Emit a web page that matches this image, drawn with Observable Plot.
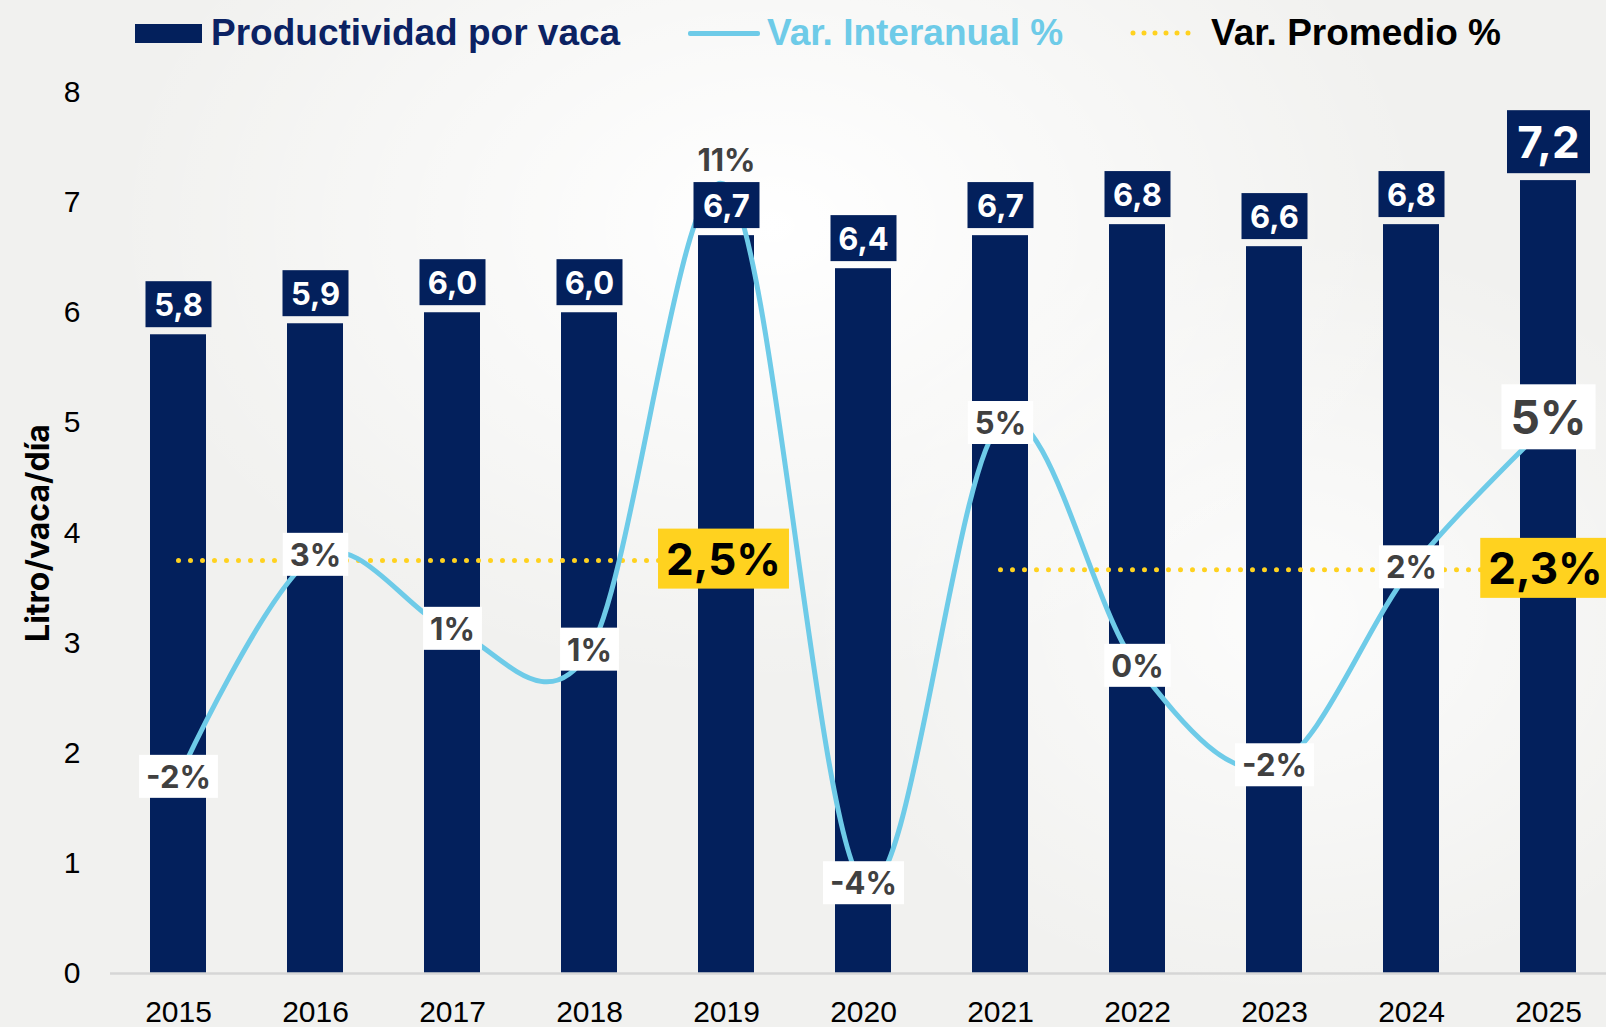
<!DOCTYPE html>
<html>
<head>
<meta charset="utf-8">
<script src="https://cdn.jsdelivr.net/npm/d3@7"></script>
<script src="https://cdn.jsdelivr.net/npm/@observablehq/plot@0.6"></script>
<style>
  html, body { margin: 0; padding: 0; }
  body {
    width: 1606px; height: 1027px; overflow: hidden;
    background:
      radial-gradient(ellipse 55% 60% at 48% 22%, rgba(255,255,255,1) 0%, rgba(255,255,255,0) 75%),
      radial-gradient(ellipse 40% 50% at 80% 60%, rgba(255,255,255,0.8) 0%, rgba(255,255,255,0) 75%),
      #f1f1ef;
    font-family: "Liberation Sans", Arial, sans-serif;
  }
  #legend { position: relative; width: 1606px; height: 70px; }
  #legend .item { position: absolute; font-weight: bold; font-size: 37px; line-height: 40px; top: 13px; white-space: nowrap; }
  #legend .sw { position: absolute; }
  #chart svg { display: block; }
</style>
</head>
<body>
<div id="legend">
  <div class="sw" style="left:135px;top:24px;width:67px;height:19px;background:#03205c"></div>
  <div class="item" style="left:211px;color:#0b2263">Productividad por vaca</div>
  <div class="sw" style="left:688px;top:31px;width:72px;height:5px;border-radius:2px;background:#6ecbe8"></div>
  <div class="item" style="left:767px;color:#6ecbe8">Var. Interanual %</div>
  <svg class="sw" style="left:1128px;top:26px" width="74" height="14">
    <line x1="5" x2="70" y1="7" y2="7" stroke="#ffd21f" stroke-width="5" stroke-dasharray="0 11" stroke-linecap="round"></line>
  </svg>
  <div class="item" style="left:1211px;color:#000">Var. Promedio %</div>
</div>
<div id="chart"></div>
<script>
// ---- Data ----
const anios = ["2015","2016","2017","2018","2019","2020","2021","2022","2023","2024","2025"];
const productividad = [5.8, 5.9, 6.0, 6.0, 6.7, 6.4, 6.7, 6.8, 6.6, 6.8, 7.2];
const varInteranual = [-2.2, 2.6, 1.0, 0.55, 10.6, -4.5, 5.45, 0.2, -1.95, 2.33, 5.45];
const promedioDesde = ["2015", "2021"];
const promedioHasta = ["2019", "2025"];
const promedioValor = [2.5, 2.3];
const ejeYTicks = [0, 1, 2, 3, 4, 5, 6, 7, 8];
const ejeYTitulo = "Litro/vaca/día";

// hidden secondary axis (%) mapped onto primary axis units
const ejeSecundario = d3.scaleLinear().domain([0, 10]).range([2.70, 6.90]);

const fmtDec = v => v.toFixed(1).replace(".", ",");
const fmtPct = v => `${Math.round(v)}%`;
const fmtPctDec = v => `${v.toFixed(1).replace(".", ",")}%`;

const barras = anios.map((a, i) => ({anio: a, valor: productividad[i]}));
const linea = anios.map((a, i) => ({anio: a, pct: varInteranual[i], y: ejeSecundario(varInteranual[i])}));
const promedios = [];
promedioDesde.forEach((d, i) => {
  promedios.push({grupo: i, anio: d, y: ejeSecundario(promedioValor[i])});
  promedios.push({grupo: i, anio: promedioHasta[i], y: ejeSecundario(promedioValor[i])});
});
const promedioEtiquetas = promedioHasta.map((a, i) => ({anio: a, valor: promedioValor[i], y: ejeSecundario(promedioValor[i])}));

const ultimo = anios[anios.length - 1];
const picoIdx = varInteranual.indexOf(d3.max(varInteranual));

const NAVY = "#03205c";
const BLUE = "#6ecbe8";
const YELLOW = "#ffd21f";
const GEO = "Inter, 'Open Sans', sans-serif";
const tag = s => () => s;

const plot = Plot.plot({
  width: 1606,
  height: 957,
  marginLeft: 110,
  marginRight: 0,
  marginTop: 22,
  marginBottom: 54,
  style: {background: "transparent", fontFamily: "'Liberation Sans', Arial, sans-serif"},
  x: {type: "band", domain: anios, range: [110, 1617], paddingInner: 0.59, paddingOuter: 0.29},
  y: {domain: [0, 8]},
  marks: [
    Plot.barY(barras, {x: "anio", y: "valor", fill: NAVY}),
    Plot.ruleY([0], {stroke: "#d6d6d6", strokeWidth: 2.5}),
    Plot.line(promedios, {x: "anio", y: "y", z: "grupo", stroke: YELLOW, strokeWidth: 5, strokeDasharray: "0 12", strokeLinecap: "round"}),
    Plot.line(linea, {x: "anio", y: "y", stroke: BLUE, strokeWidth: 5, curve: "cardinal"}),
    // bar value labels
    Plot.text(barras.filter(d => d.anio !== ultimo), {x: "anio", y: "valor", text: d => fmtDec(d.valor), dy: -29, fill: "white", fontWeight: 700, fontSize: 31, fontFamily: GEO, ariaLabel: tag("barlab")}),
    Plot.text(barras.filter(d => d.anio === ultimo), {x: "anio", y: "valor", text: d => fmtDec(d.valor), dy: -37, fill: "white", fontWeight: 700, fontSize: 44, fontFamily: GEO, ariaLabel: tag("barlabbig")}),
    // variation labels
    Plot.text(linea.filter((d, i) => i !== picoIdx && d.anio !== ultimo), {x: "anio", y: "y", text: d => fmtPct(d.pct), fill: "#404040", fontWeight: 700, fontSize: 31, fontFamily: GEO, ariaLabel: tag("pctlab")}),
    Plot.text(linea.filter((d, i) => i === picoIdx), {x: "anio", y: "y", text: d => fmtPct(d.pct), dy: -25, fill: "#404040", fontWeight: 700, fontSize: 31, fontFamily: GEO}),
    Plot.text(linea.filter(d => d.anio === ultimo), {x: "anio", y: "y", text: d => fmtPct(d.pct), dy: -5, fill: "#404040", fontWeight: 700, fontSize: 46, fontFamily: GEO, ariaLabel: tag("pctbig")}),
    // average labels
    Plot.text(promedioEtiquetas, {x: "anio", y: "y", text: d => fmtPctDec(d.valor), dx: -3, fill: "#000", fontWeight: 700, fontSize: 44, fontFamily: GEO, ariaLabel: tag("avglab")}),
    // axes
    Plot.axisY({ticks: ejeYTicks, tickSize: 0, tickPadding: 30, fontSize: 30, label: null}),
    Plot.axisX({tickSize: 0, tickPadding: 27, fontSize: 30, label: null}),
    Plot.text([ejeYTitulo], {frameAnchor: "left", textAnchor: "middle", rotate: -90, dx: -72, fontSize: 32, fontWeight: 700, fontFamily: GEO, fill: "#000"})
  ]
});

document.getElementById("chart").appendChild(plot);

function addBoxes(label, opts) {
  plot.querySelectorAll(`text[aria-label="${label}"]`).forEach(t => {
    const b = t.getBBox();
    const w = opts.w != null ? opts.w : b.width + 2 * opts.padX;
    const h = opts.h;
    const r = document.createElementNS("http://www.w3.org/2000/svg", "rect");
    r.setAttribute("x", b.x + b.width / 2 - w / 2);
    r.setAttribute("y", b.y + b.height / 2 - h / 2);
    r.setAttribute("width", w);
    r.setAttribute("height", h);
    r.setAttribute("fill", opts.fill);
    const tr = t.getAttribute("transform");
    if (tr) r.setAttribute("transform", tr);
    t.parentNode.insertBefore(r, t);
  });
}
addBoxes("barlab", {w: 66, h: 46, fill: NAVY});
addBoxes("barlabbig", {w: 83, h: 63, fill: NAVY});
addBoxes("pctlab", {padX: 7, h: 43, fill: "#ffffff"});
addBoxes("pctbig", {padX: 9, h: 65, fill: "#ffffff"});
addBoxes("avglab", {padX: 8, h: 60, fill: YELLOW});
</script>
</body>
</html>
